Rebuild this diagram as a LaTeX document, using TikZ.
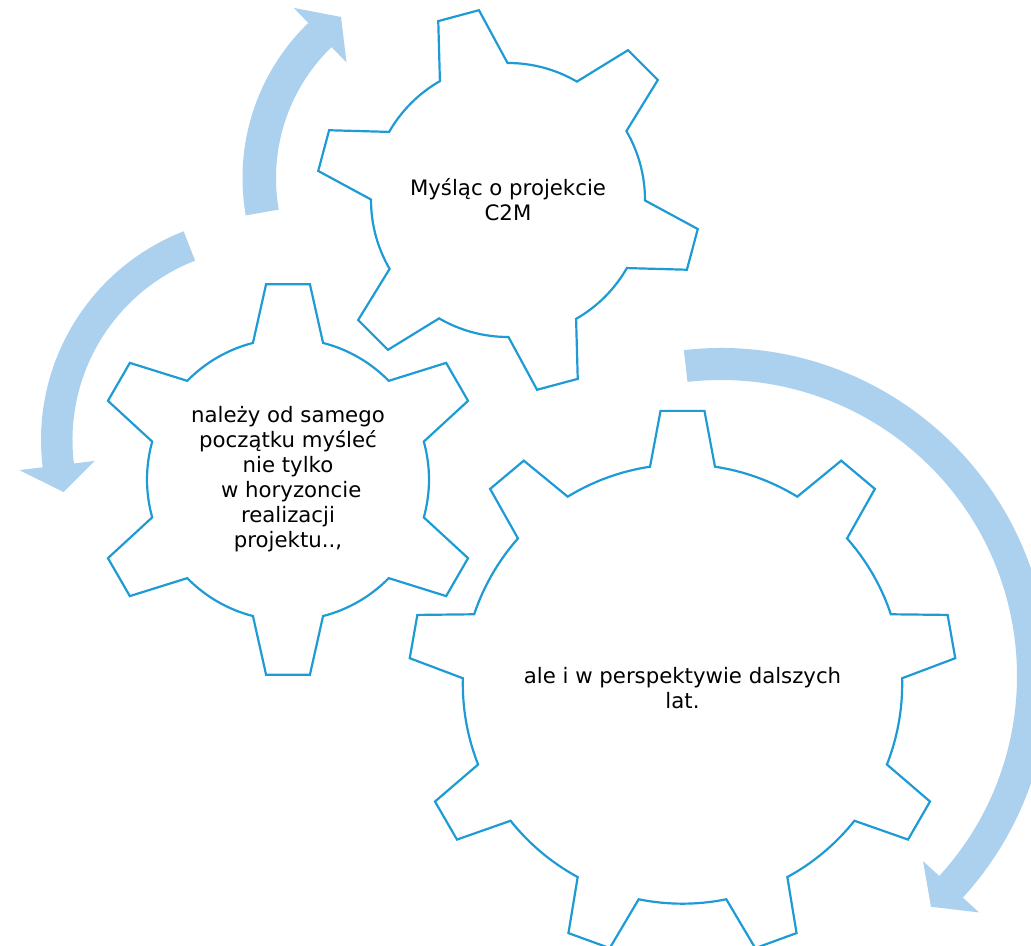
\documentclass[tikz,border=0pt]{standalone}
\usepackage{fontspec}
\setmainfont{DejaVu Sans}
\usepackage{tikz}
\definecolor{gearblue}{RGB}{30,155,212}
\definecolor{swirlblue}{RGB}{172,209,238}

\begin{document}
\begin{tikzpicture}[x=0.02cm,y=0.02cm,
  gearline/.style={draw=gearblue,line width=1.25pt,line join=miter},
  swirl/.style={fill=swirlblue},
  geartext/.style={align=center,font=\fontsize{12.1}{14.2}\selectfont,text=black}]
\useasboundingbox (0,0) rectangle (1031,946);
\begin{scope}[shift={(458,768)}]
\fill[swirl] (190:215.5) arc[start angle=190,end angle=134,radius=215.5] -- (134:236.5) -- (126:199) -- (134:160.5) -- (134:182) arc[start angle=134,end angle=190,radius=182] -- cycle;
\end{scope}
\begin{scope}[shift={(265,506)}]
\fill[swirl] (111.3:224) arc[start angle=111.3,end angle=187,radius=224] -- (187:247.5) -- (194.5:208) -- (187:171.5) -- (187:192.5) arc[start angle=187,end angle=111.3,radius=192.5] -- cycle;
\end{scope}
\begin{scope}[shift={(721,270)}]
\fill[swirl] (96.5:328) arc[start angle=96.5,end angle=-42.5,radius=328] -- (-42.5:350) -- (-47.7:312) -- (-42.5:274) -- (-42.5:296) arc[start angle=-42.5,end angle=96.5,radius=296] -- cycle;
\end{scope}
\begin{scope}[shift={(508,746)}]
\draw[gearline] (38.7:192) -- (51.3:192) -- (59.8:137) arc[start angle=59.8,end angle=90.2,radius=137]
  -- (98.7:192) -- (111.3:192) -- (119.8:137) arc[start angle=119.8,end angle=150.2,radius=137]
  -- (158.7:192) -- (171.3:192) -- (179.8:137) arc[start angle=179.8,end angle=210.2,radius=137]
  -- (218.7:192) -- (231.3:192) -- (239.8:137) arc[start angle=239.8,end angle=270.2,radius=137]
  -- (278.7:192) -- (291.3:192) -- (299.8:137) arc[start angle=299.8,end angle=330.2,radius=137]
  -- (338.7:192) -- (351.3:192) -- (359.8:137) arc[start angle=359.8,end angle=390.2,radius=137] -- cycle;
\end{scope}
\begin{scope}[shift={(288,466.5)}]
\draw[gearline] (23.6:196.5) -- (36.4:196.5) -- (44.4:141) arc[start angle=44.4,end angle=75.6,radius=141]
  -- (83.6:196.5) -- (96.4:196.5) -- (104.4:141) arc[start angle=104.4,end angle=135.6,radius=141]
  -- (143.6:196.5) -- (156.4:196.5) -- (164.4:141) arc[start angle=164.4,end angle=195.6,radius=141]
  -- (203.6:196.5) -- (216.4:196.5) -- (224.4:141) arc[start angle=224.4,end angle=255.6,radius=141]
  -- (263.6:196.5) -- (276.4:196.5) -- (284.4:141) arc[start angle=284.4,end angle=315.6,radius=141]
  -- (323.6:196.5) -- (336.4:196.5) -- (344.4:141) arc[start angle=344.4,end angle=375.6,radius=141] -- cycle;
\end{scope}
\begin{scope}[shift={(682.5,262)}]
\draw[gearline] (5.4:274) -- (14.6:274) -- (18.5:219.7) arc[start angle=18.5,end angle=41.5,radius=219.7]
  -- (45.4:274) -- (54.6:274) -- (58.5:219.7) arc[start angle=58.5,end angle=81.5,radius=219.7]
  -- (85.4:274) -- (94.6:274) -- (98.5:219.7) arc[start angle=98.5,end angle=121.5,radius=219.7]
  -- (125.4:274) -- (134.6:274) -- (138.5:219.7) arc[start angle=138.5,end angle=161.5,radius=219.7]
  -- (165.4:274) -- (174.6:274) -- (178.5:219.7) arc[start angle=178.5,end angle=201.5,radius=219.7]
  -- (205.4:274) -- (214.6:274) -- (218.5:219.7) arc[start angle=218.5,end angle=241.5,radius=219.7]
  -- (245.4:274) -- (254.6:274) -- (258.5:219.7) arc[start angle=258.5,end angle=281.5,radius=219.7]
  -- (285.4:274) -- (294.6:274) -- (298.5:219.7) arc[start angle=298.5,end angle=321.5,radius=219.7]
  -- (325.4:274) -- (334.6:274) -- (338.5:219.7) arc[start angle=338.5,end angle=361.5,radius=219.7] -- cycle;
\end{scope}
\node[geartext] (mysl) at (508,746) {Myśląc o projekcie\\C2M};
\node[geartext] (nalezy) at (288,467) {należy od samego\\początku myśleć\\nie tylko\\\hspace*{0.3em}w horyzoncie\\realizacji\\projektu..,};
\node[geartext] (ale) at (682.5,258) {ale i w perspektywie dalszych\\lat.};
\end{tikzpicture}
\end{document}
